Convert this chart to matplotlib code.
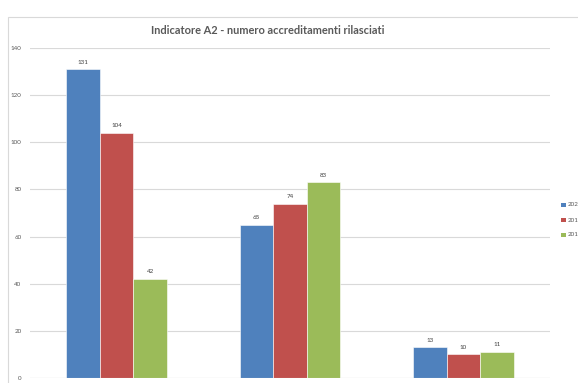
import matplotlib
matplotlib.use("Agg")
import matplotlib.pyplot as plt
from matplotlib.patches import Rectangle
import numpy as np

categories = ["A", "B", "C"]
series_names = ["2020", "2019", "2018"]
values_2020 = [131, 65, 13]
values_2019 = [104, 74, 10]
values_2018 = [42, 83, 11]
colors = ["#4F81BD", "#C0504D", "#9BBB59"]

W, H = 578, 383
fig = plt.figure(figsize=(W / 100, H / 100), dpi=100)
fig.patch.set_facecolor("white")

# chart frame
fig.patches.append(Rectangle((8 / W, -0.05), 0.99, 1 - 17 / H + 0.05,
                             transform=fig.transFigure, fill=False,
                             edgecolor="#D9D9D9", linewidth=0.8))

ax = fig.add_axes([30 / W, 1 - 378 / H, 520 / W, (378 - 48) / H])
x = np.arange(len(categories))
bw = 0.193
series = [values_2020, values_2019, values_2018]
for i, (vals, c) in enumerate(zip(series, colors)):
    pos = x + (i - 1) * bw
    ax.bar(pos, vals, width=bw, color=c, edgecolor="white", linewidth=0.4, zorder=3)
    for p, v in zip(pos, vals):
        ax.text(p, v + 2.0, str(v), ha="center", va="bottom", fontsize=4.5,
                color="#404040", family="Lato")

ax.set_xlim(-0.5, 2.5)
ax.set_ylim(0, 140)
ax.set_yticks(range(0, 141, 20))
ax.set_xticks([])
ax.tick_params(axis="y", length=0, labelsize=4.5, labelcolor="#595959", pad=6)
for lbl in ax.get_yticklabels():
    lbl.set_family("Lato")
ax.grid(axis="y", color="#D9D9D9", linewidth=0.8, zorder=0)
for s in ax.spines.values():
    s.set_visible(False)
ax.axhline(0, color="#D9D9D9", linewidth=0.8, zorder=4)

fig.text(268 / W, 1 - 31 / H, "Indicatore A2 - numero accreditamenti rilasciati",
         ha="center", va="center", fontsize=7.9, fontweight="bold",
         color="#595959", family="Lato")

# legend
for i, (name, c) in enumerate(zip(series_names, colors)):
    yc = 1 - (205 + 15 * i) / H
    fig.patches.append(Rectangle((561 / W, yc - 2.2 / H), 4.5 / W, 4.5 / H,
                                 transform=fig.transFigure, facecolor=c,
                                 edgecolor="none"))
    fig.text(568 / W, yc, name, ha="left", va="center", fontsize=4.5,
             color="#595959", family="Lato")

fig.savefig("out.png", dpi=100)
